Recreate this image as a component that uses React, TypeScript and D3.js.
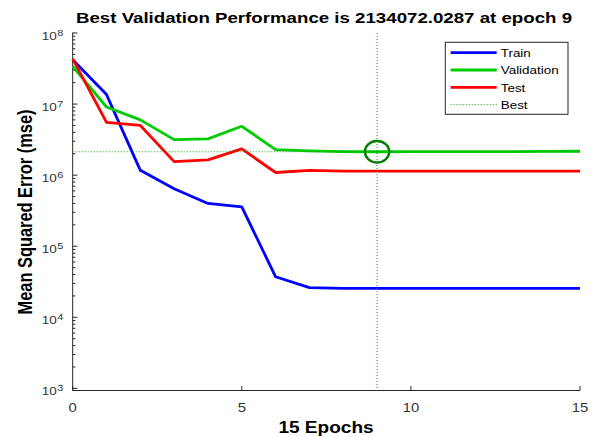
import React from "react";
import * as d3 from "d3";

const epochs = [0, 1, 2, 3, 4, 5, 6, 7, 8, 9, 10, 11, 12, 13, 14, 15];
const trainMse = [4.2e7, 1.36e7, 1.17e6, 6.45e5, 4.0e5, 3.57e5, 3.72e4, 2.62e4, 2.56e4, 2.56e4, 2.56e4, 2.56e4, 2.56e4, 2.55e4, 2.55e4, 2.55e4];
const validationMse = [3.4e7, 9.1e6, 6.0e6, 3.16e6, 3.24e6, 4.87e6, 2.29e6, 2.2e6, 2.15e6, 2134072.0287, 2.14e6, 2.14e6, 2.15e6, 2.15e6, 2.16e6, 2.17e6];
const testMse = [4.33e7, 5.54e6, 5.0e6, 1.55e6, 1.64e6, 2.34e6, 1.09e6, 1.17e6, 1.14e6, 1.14e6, 1.14e6, 1.14e6, 1.14e6, 1.14e6, 1.14e6, 1.14e6];
const bestEpoch = 9;
const bestValue = 2134072.0287;
const xTicks = [0, 5, 10, 15];
const yTickExponents = [3, 4, 5, 6, 7, 8];
const legendLabels = ["Train", "Validation", "Test", "Best"];
const titleText = "Best Validation Performance is 2134072.0287 at epoch 9";
const xLabelText = "15 Epochs";
const yLabelText = "Mean Squared Error  (mse)";

const FONT = "'Liberation Sans', Arial, Helvetica, sans-serif";
const SX = 1.19;
const AX = "#262626";

export default function App() {
  const x = d3.scaleLinear().domain([0, 15]).range([72.7, 580]);
  const y = d3.scaleLog().domain([1e3, 1e8]).range([388.4, 33]);
  const axisBottom = 390.5;
  const line = d3
    .line<number>()
    .x((_, i) => x(epochs[i]))
    .y((v) => y(v));

  const minor: number[] = [];
  for (let e = 3; e < 8; e++) for (let k = 2; k <= 9; k++) minor.push(k * Math.pow(10, e));

  const series = [
    { vals: trainMse, color: "#0000ff" },
    { vals: validationMse, color: "#00cc00" },
    { vals: testMse, color: "#ff0000" },
  ];
  const legendColors = ["#0000ff", "#00cc00", "#ff0000", "#00aa00"];

  const T = (props: { x: number; y: number; size: number; anchor?: string; weight?: string; fill?: string; sx?: number; children: React.ReactNode }) => (
    <g transform={`translate(${props.x},${props.y}) scale(${props.sx || SX},1)`}>
      <text
        x={0}
        y={0}
        fontSize={props.size}
        fontFamily={FONT}
        textAnchor={props.anchor || "start"}
        fontWeight={props.weight || "normal"}
        fill={props.fill || AX}
      >
        {props.children}
      </text>
    </g>
  );

  return (
    <svg width={598} height={437} style={{ position: "absolute", left: 0, top: 0, background: "#fff" }}>
      <rect x={0} y={0} width={598} height={437} fill="#fff" />
      {/* title */}
      <T x={324} y={23} size={15.5} sx={1.205} anchor="middle" weight="bold" fill="#000">
        {titleText}
      </T>
      {/* axes */}
      <line x1={x(0)} x2={x(0)} y1={32.5} y2={axisBottom} stroke={AX} strokeWidth={1} />
      <line x1={x(0)} x2={x(15)} y1={axisBottom} y2={axisBottom} stroke={AX} strokeWidth={1} />
      {yTickExponents.map((e) => (
        <g key={e}>
          <line x1={x(0)} x2={x(0) + 4.7} y1={y(Math.pow(10, e))} y2={y(Math.pow(10, e))} stroke={AX} />
          <T x={56.7} y={y(Math.pow(10, e)) + 6.7} size={11.4} anchor="end" fill="#333">
            10
          </T>
          <T x={57.2} y={y(Math.pow(10, e)) + 2.6} size={9.2} anchor="start" fill="#333">
            {String(e)}
          </T>
        </g>
      ))}
      {minor.map((v) => (
        <line key={v} x1={x(0)} x2={x(0) + 2.6} y1={y(v)} y2={y(v)} stroke={AX} />
      ))}
      {xTicks.map((t) => (
        <g key={t}>
          <line x1={x(t)} x2={x(t)} y1={axisBottom} y2={axisBottom - 4.5} stroke={AX} />
          <T x={x(t)} y={411.8} size={12.5} anchor="middle" fill="#333">
            {String(t)}
          </T>
        </g>
      ))}
      {/* labels */}
      <T x={326} y={433.3} size={16} anchor="middle" weight="bold" fill="#000">
        {xLabelText}
      </T>
      <g transform={`translate(31.7,212) scale(${SX},1) rotate(-90)`}>
        <text x={0} y={0} fontSize={16.4} fontFamily={FONT} fontWeight="bold" textAnchor="middle" fill="#000">
          {yLabelText}
        </text>
      </g>
      {/* series */}
      {series.map((s, i) => (
        <path key={i} d={line(s.vals) || ""} fill="none" stroke={s.color} strokeWidth={2.8} strokeLinejoin="round" />
      ))}
      {/* best lines */}
      <line x1={x(0)} x2={x(15)} y1={y(bestValue)} y2={y(bestValue)} stroke="#00aa00" strokeWidth={1} strokeDasharray="1 2" />
      <line x1={x(bestEpoch)} x2={x(bestEpoch)} y1={33} y2={axisBottom} stroke="#00aa00" strokeWidth={1} strokeDasharray="1 2" />
      <ellipse cx={x(bestEpoch)} cy={y(bestValue)} rx={12.2} ry={10.8} fill="none" stroke="#007f00" strokeWidth={2.4} />
      {/* legend */}
      <rect x={445.3} y={42.3} width={122.7} height={72} fill="#fff" stroke={AX} strokeWidth={1} />
      {legendLabels.map((lab, i) => {
        const ly = 52.7 + i * 17.3;
        return (
          <g key={lab}>
            {i < 3 ? (
              <line x1={450.7} x2={496.7} y1={ly} y2={ly} stroke={legendColors[i]} strokeWidth={2.8} />
            ) : (
              <line x1={450.7} x2={496.7} y1={ly} y2={ly} stroke={legendColors[i]} strokeWidth={1} strokeDasharray="1 2" />
            )}
            <T x={500.7} y={ly + 4.2} size={11.3} fill="#000">
              {lab}
            </T>
          </g>
        );
      })}
    </svg>
  );
}
